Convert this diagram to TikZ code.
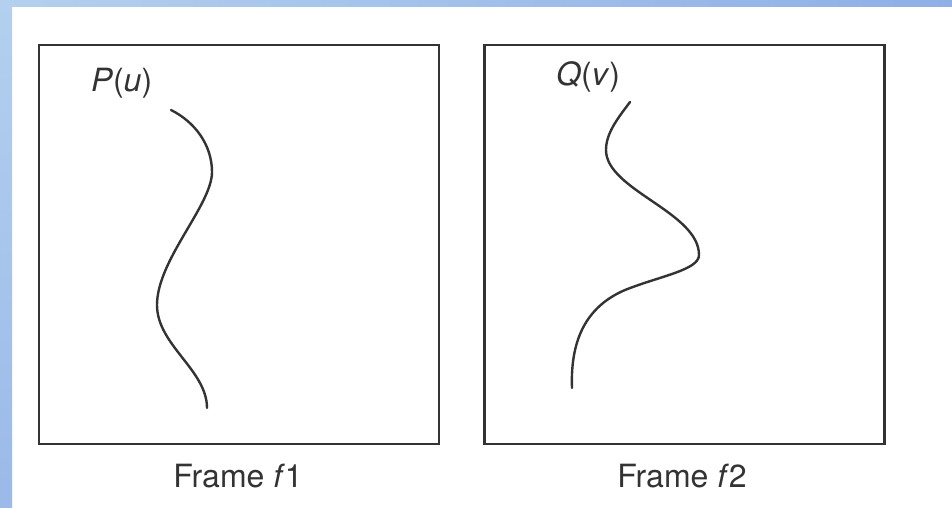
\documentclass[tikz,border=0pt]{standalone}
\usepackage{fontspec}
\setmainfont{TeX Gyre Heros}
\definecolor{bandA}{HTML}{B4D0EE}
\definecolor{bandB}{HTML}{8FAFE6}
\definecolor{bandC}{HTML}{9BB9E9}
\definecolor{ink}{HTML}{333333}
\begin{document}
\begin{tikzpicture}[x=1pt,y=-1pt,
  framebox/.style={draw=ink,line width=2.2pt,inner sep=0pt,minimum width=400pt,minimum height=399pt},
  curve/.style={draw=ink,line width=2.4pt,line cap=round},
  lab/.style={inner sep=0pt,anchor=base west,text=ink,font=\fontsize{32}{38}\selectfont},
  framecaption/.style={inner sep=0pt,anchor=base,text=ink,font=\fontsize{32}{38}\selectfont}]
\useasboundingbox (0,0) rectangle (952,508);
\fill[white] (0,0) rectangle (952,508);
\shade[left color=bandA,right color=bandB] (0,0) rectangle (952,7);
\shade[top color=bandA,bottom color=bandC] (0,0) rectangle (12,508);
\node[framebox] (f1) at (239,244.5) {};
\node[framebox] (f2) at (684.5,244.5) {};
\node[lab] (pu) at (91,92) {\textit{P}(\textit{u})};
\node[lab] (qv) at (556,86) {\textit{Q}(\textit{v})};
\node[framecaption] (c1) at (238,487) {Frame \textit{f}1};
\node[framecaption] (c2) at (682,487) {Frame \textit{f}2};
\draw[curve] (171,110) .. controls (195,122) and (212,145) .. (212,172)
  .. controls (212,205) and (157,260) .. (157,305)
  .. controls (157,345) and (207,370) .. (207,408);
\draw[curve] (630,102) .. controls (618,118) and (606,133) .. (606,150)
  .. controls (606,190) and (699,212) .. (699,255)
  .. controls (699,270) and (660,276) .. (625,290)
  .. controls (590,305) and (570,335) .. (572,388);
\end{tikzpicture}
\end{document}
